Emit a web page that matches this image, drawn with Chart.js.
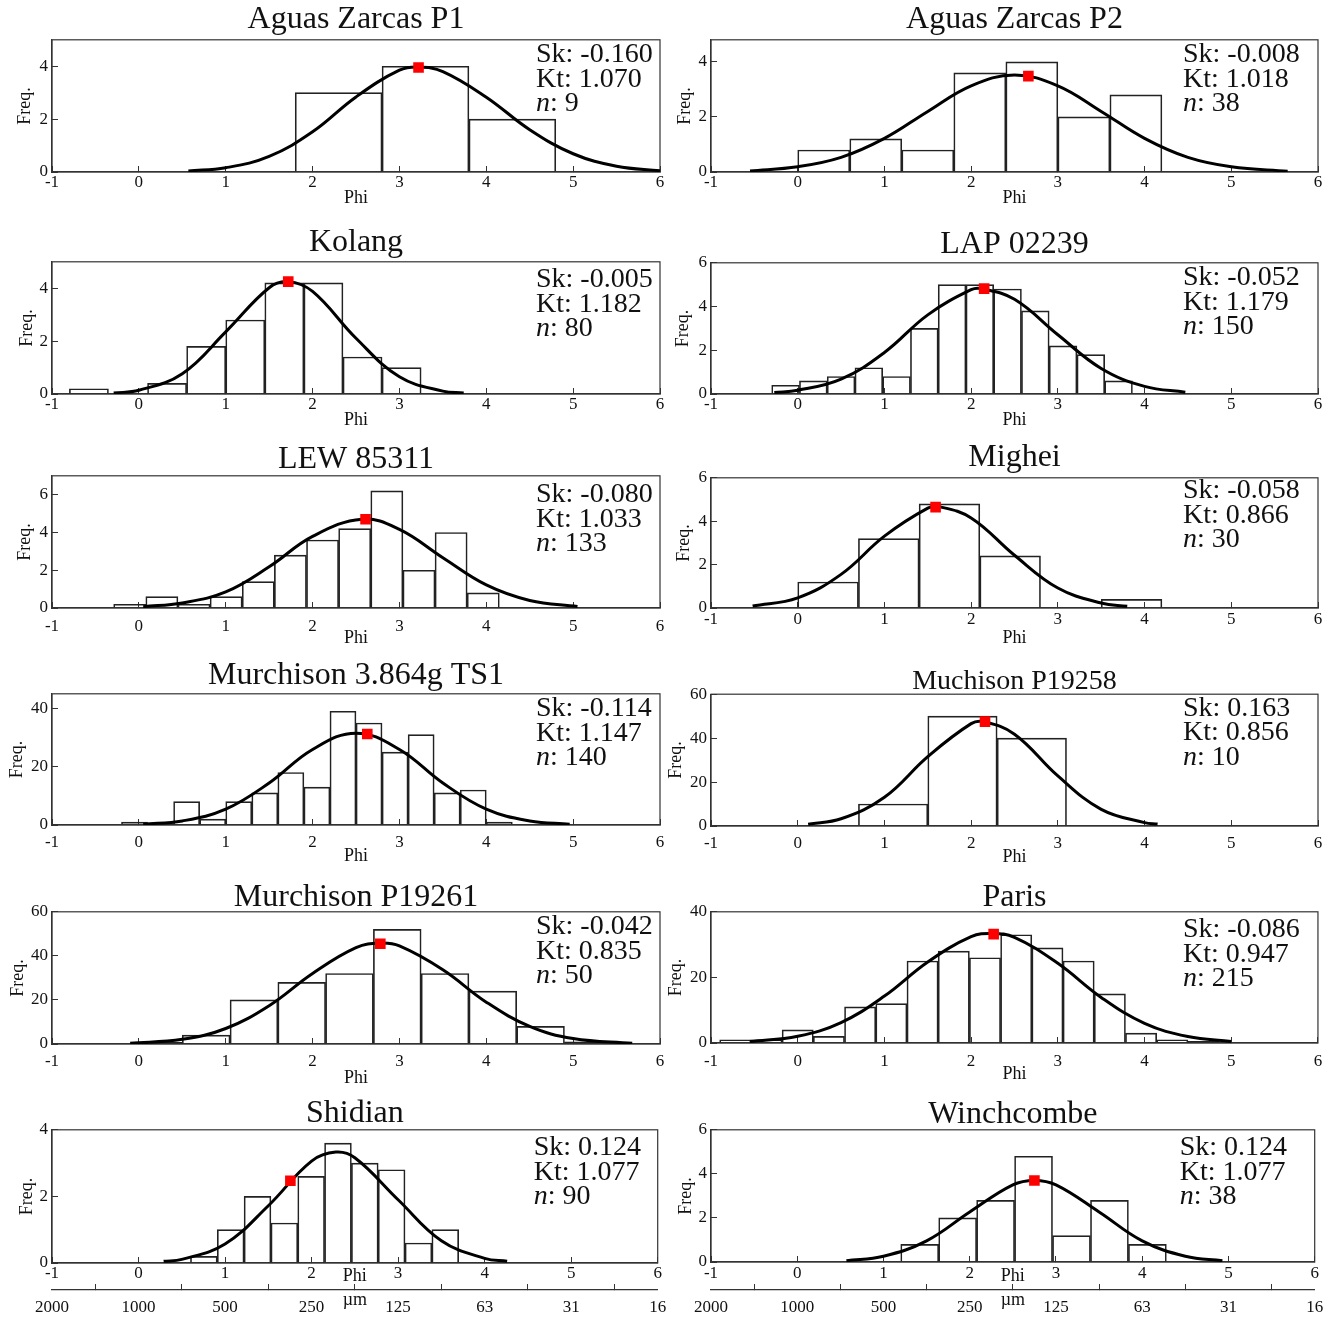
<!DOCTYPE html>
<html>
<head>
<meta charset="utf-8">
<title>Grain size distributions</title>
<script src="https://cdn.jsdelivr.net/npm/chart.js@4.4.1/dist/chart.umd.min.js"></script>
<style>
  body { margin: 0; background: #fff; }
  #wrap { position: relative; width: 1337px; height: 1320px; overflow: hidden; }
  #wrap canvas { position: absolute; }
</style>
</head>
<body>
<div id="wrap"></div>

<script>
// ---- data ----
const titles = ['Aguas Zarcas P1', 'Aguas Zarcas P2', 'Kolang', 'LAP 02239', 'LEW 85311', 'Mighei',
  'Murchison 3.864g TS1', 'Muchison P19258', 'Murchison P19261', 'Paris', 'Shidian', 'Winchcombe'];
const skewness = ['-0.160', '-0.008', '-0.005', '-0.052', '-0.080', '-0.058', '-0.114', '0.163', '-0.042', '-0.086', '0.124', '0.124'];
const kurtosis = ['1.070', '1.018', '1.182', '1.179', '1.033', '0.866', '1.147', '0.856', '0.835', '0.947', '1.077', '1.077'];
const sampleSize = ['9', '38', '80', '150', '133', '30', '140', '10', '50', '215', '90', '38'];

// histogram bin edges (phi) and frequencies
const binEdges = [
  [1.8, 2.8, 3.8, 4.8],
  [0, 0.6, 1.2, 1.8, 2.4, 3.0, 3.6, 4.2],
  [-0.8, -0.35, 0.1, 0.55, 1.0, 1.45, 1.9, 2.35, 2.8, 3.25],
  [-0.3, 0.02, 0.34, 0.66, 0.98, 1.3, 1.62, 1.94, 2.26, 2.58, 2.9, 3.22, 3.54, 3.86],
  [-0.29, 0.08, 0.45, 0.82, 1.19, 1.56, 1.93, 2.3, 2.67, 3.04, 3.41, 3.78, 4.15],
  [0, 0.7, 1.4, 2.1, 2.8, 3.5, 4.2],
  [-0.2, 0.1, 0.4, 0.7, 1.0, 1.3, 1.6, 1.9, 2.2, 2.5, 2.8, 3.1, 3.4, 3.7, 4.0, 4.3],
  [0.7, 1.5, 2.3, 3.1],
  [-0.05, 0.5, 1.05, 1.6, 2.15, 2.7, 3.25, 3.8, 4.35, 4.9, 5.45],
  [-0.9, -0.54, -0.18, 0.18, 0.54, 0.9, 1.26, 1.62, 1.98, 2.34, 2.7, 3.06, 3.42, 3.78, 4.14, 4.5, 4.86],
  [0.6, 0.91, 1.22, 1.53, 1.84, 2.15, 2.46, 2.77, 3.08, 3.39, 3.7],
  [1.2, 1.64, 2.08, 2.52, 2.96, 3.4, 3.84, 4.28]
];
const binFreq = [
  [3, 4, 2],
  [0.8, 1.2, 0.8, 3.6, 4.0, 2.0, 2.8],
  [0.2, 0, 0.4, 1.8, 2.8, 4.2, 4.2, 1.4, 1.0],
  [0.4, 0.6, 0.8, 1.2, 0.8, 3.0, 5.0, 5.0, 4.8, 3.8, 2.2, 1.8, 0.6],
  [0.2, 0.6, 0.2, 0.6, 1.4, 2.8, 3.6, 4.2, 6.2, 2.0, 4.0, 0.8],
  [1.2, 3.2, 4.8, 2.4, 0, 0.4],
  [1, 0.5, 8, 2, 8, 11, 18, 13, 39, 35, 25, 31, 11, 12, 1],
  [10, 50, 40],
  [0.8, 4, 20, 28, 32, 52, 32, 24, 8, 1],
  [1, 1, 4, 2, 11, 12, 25, 28, 26, 33, 29, 25, 15, 3, 1, 0.5],
  [0.2, 1.0, 2.0, 1.2, 2.6, 3.6, 3.0, 2.8, 0.6, 1.0],
  [0.8, 2.0, 2.8, 4.8, 1.2, 2.8, 0.8]
];

// fitted curve
const curvePhi = [
  [0.57, 1.0, 1.5, 2.0, 2.5, 3.0, 3.22, 3.5, 4.0, 4.5, 5.0, 5.5, 6.0],
  [-0.55, 0, 0.5, 1.0, 1.5, 2.0, 2.5, 3.0, 3.5, 4.0, 4.5, 5.0, 5.65],
  [-0.29, 0, 0.5, 1.0, 1.5, 1.72, 2.0, 2.5, 3.0, 3.5, 3.74],
  [-0.27, 0, 0.5, 1.0, 1.5, 2.0, 2.12, 2.5, 3.0, 3.5, 4.0, 4.47],
  [0.05, 0.5, 1.0, 1.5, 2.0, 2.57, 3.0, 3.5, 4.0, 4.5, 5.05],
  [-0.52, 0, 0.5, 1.0, 1.5, 1.63, 2.0, 2.5, 3.0, 3.5, 3.8],
  [0.05, 0.5, 1.0, 1.5, 2.0, 2.5, 3.0, 3.5, 4.0, 4.5, 4.96],
  [0.12, 0.5, 1.0, 1.5, 2.0, 2.14, 2.5, 3.0, 3.5, 4.0, 4.15],
  [-0.1, 0.5, 1.0, 1.5, 2.0, 2.5, 2.78, 3.0, 3.5, 4.0, 4.5, 5.0, 5.68],
  [-0.55, 0, 0.5, 1.0, 1.5, 2.0, 2.24, 2.5, 3.0, 3.5, 4.0, 4.5, 5.0],
  [0.29, 0.5, 1.0, 1.5, 2.0, 2.28, 2.5, 3.0, 3.5, 4.0, 4.26],
  [0.57, 1.0, 1.5, 2.0, 2.5, 2.75, 3.0, 3.5, 4.0, 4.5, 4.93]
];
const curveFreq = [
  [0.04, 0.16, 0.59, 1.52, 2.84, 3.85, 3.97, 3.80, 2.83, 1.60, 0.69, 0.22, 0.05],
  [0.04, 0.19, 0.53, 1.22, 2.20, 3.13, 3.52, 3.13, 2.20, 1.22, 0.53, 0.19, 0.03],
  [0.04, 0.14, 0.77, 2.35, 4.02, 4.25, 3.88, 2.11, 0.65, 0.11, 0.04],
  [0.07, 0.17, 0.68, 1.90, 3.62, 4.77, 4.82, 4.33, 2.71, 1.17, 0.35, 0.08],
  [0.07, 0.27, 0.85, 2.18, 3.79, 4.70, 4.16, 2.66, 1.22, 0.40, 0.08],
  [0.09, 0.47, 1.55, 3.31, 4.60, 4.67, 4.15, 2.43, 0.92, 0.23, 0.08],
  [0.29, 1.39, 5.43, 14.4, 25.9, 31.5, 25.9, 14.4, 5.43, 1.39, 0.28],
  [0.83, 3.30, 13.1, 31.6, 46.6, 47.5, 41.8, 22.8, 7.6, 1.53, 0.87],
  [0.34, 2.12, 7.04, 17.4, 32.0, 43.7, 45.8, 44.5, 33.7, 19.0, 8.0, 2.49, 0.32],
  [0.45, 2.07, 6.24, 14.3, 24.7, 32.4, 33.4, 32.2, 24.3, 13.9, 6.0, 1.97, 0.49],
  [0.05, 0.11, 0.57, 1.72, 3.06, 3.33, 3.16, 1.90, 0.67, 0.14, 0.05],
  [0.06, 0.26, 0.96, 2.27, 3.50, 3.70, 3.50, 2.27, 0.96, 0.26, 0.06]
];
const markerPhi = [3.22, 2.66, 1.72, 2.15, 2.61, 1.59, 2.63, 2.16, 2.78, 2.26, 1.755, 2.75];
const markerFreq = [3.95, 3.48, 4.25, 4.82, 4.70, 4.65, 31.2, 47.5, 45.5, 33.2, 2.47, 3.70];

const freqMax = [5, 4.8, 5, 6, 7, 6, 45, 60, 60, 40, 4, 6];
const freqStep = [2, 2, 2, 2, 2, 2, 20, 20, 20, 20, 2, 2];
const phiTicks = [-1, 0, 1, 2, 3, 4, 5, 6];
const micronLabels = ['2000', '1000', '500', '250', '125', '63', '31', '16'];

// ---- page layout (px) ----
// [plot top, plot bottom, title centre, x tick label centre, x title centre]
const frame = [
  [40, 172, 20, 183, 198], [40, 172, 20, 183, 198],
  [262, 394, 243, 405, 420], [263, 394, 245, 405, 420],
  [476, 608, 460, 627, 638], [478, 608, 458, 620, 638],
  [694, 825, 676, 843, 856], [694, 826, 681, 844, 857],
  [912, 1044, 898, 1062, 1078], [912, 1043, 898, 1062, 1074],
  [1130, 1263, 1114, 1274, 1276], [1130, 1262, 1115, 1274, 1276]
];
const titleSize = [32, 32, 32, 32, 32, 32, 32, 28, 32, 32, 32, 32];
const freqTitleX = [25, 685, 27, 683, 25, 684, 17, 676, 18, 676, 27, 686];
const statsDy = [15, 15, 18, 15, 19, 13, 15, 14, 15, 18, 18, 18];

const FONT = "'Liberation Serif', 'Times New Roman', Times, serif";
Chart.defaults.font.family = FONT;
Chart.defaults.color = '#111';

// full box round the plot
const framePlugin = {
  id: 'frameBox',
  beforeDatasetsDraw(chart) {
    const {ctx, chartArea: a} = chart;
    ctx.save();
    ctx.strokeStyle = '#333';
    ctx.lineWidth = 1.2;
    ctx.strokeRect(a.left, a.top, a.right - a.left, a.bottom - a.top);
    ctx.restore();
  }
};

// Sk / Kt / n block in the upper right corner
const statsPlugin = {
  id: 'stats',
  afterDraw(chart, args, opts) {
    const {ctx, chartArea: a} = chart;
    const x = a.right - opts.inset;
    const y = a.top + opts.dy;
    ctx.save();
    ctx.fillStyle = '#111';
    ctx.textBaseline = 'middle';
    ctx.textAlign = 'left';
    ctx.font = '28px ' + FONT;
    ctx.fillText('Sk: ' + opts.sk, x, y);
    ctx.fillText('Kt: ' + opts.kt, x, y + 24.5);
    ctx.font = 'italic 28px ' + FONT;
    ctx.fillText('n', x, y + 49);
    const w = ctx.measureText('n').width;
    ctx.font = '28px ' + FONT;
    ctx.fillText(': ' + opts.n, x + w, y + 49);
    ctx.restore();
  }
};

const wrap = document.getElementById('wrap');

titles.forEach((name, i) => {
  const col = i % 2;
  const last = i >= 10;
  const [top, bottom, titleY, tickY, axisY] = frame[i];

  const canvasLeft = col ? 665 : 0;
  const canvasW = col ? 672 : 680;
  const plotLeft = col ? 711 : 52;
  const plotRight = col ? 1318 : 660;
  const tLine = titleSize[i] * 0.8;
  const canvasTop = titleY - tLine / 2 - 12;
  const xH = last ? 1290 - bottom : axisY + 13 - bottom;
  const canvasBottom = last ? 1320 : bottom + xH;

  const cv = document.createElement('canvas');
  cv.width = canvasW;
  cv.height = Math.round(canvasBottom - canvasTop);
  cv.style.left = canvasLeft + 'px';
  cv.style.top = canvasTop + 'px';
  wrap.appendChild(cv);

  const edges = binEdges[i];
  const bars = binFreq[i].map((f, k) => ({x: (edges[k] + edges[k + 1]) / 2, y: f}));
  const curve = curvePhi[i].map((p, k) => ({x: p, y: curveFreq[i][k]}));

  const axisGrid = {drawOnChartArea: false, drawTicks: true, tickLength: -6, color: '#333', lineWidth: 1};
  const axisBorder = {display: true, color: '#333', width: 1.2};

  const scales = {
    x: {
      type: 'linear', position: 'bottom', min: -1, max: 6, offset: false,
      grid: Object.assign({offset: false}, axisGrid),
      border: axisBorder,
      ticks: {stepSize: 1, autoSkip: false, maxRotation: 0, padding: tickY - bottom + 6 - 10.2,
        color: '#111', font: {size: 17}},
      title: {display: true, text: 'Phi', color: '#111', font: {size: 18},
        padding: {top: 0, bottom: bottom + xH - 10.8 - axisY}},
      afterFit: s => { s.height = xH; }
    },
    y: {
      type: 'linear', position: 'left', min: 0, max: freqMax[i],
      grid: axisGrid,
      border: axisBorder,
      ticks: {stepSize: freqStep[i], includeBounds: false, padding: 10, color: '#111', font: {size: 17}},
      title: {display: true, text: 'Freq.', color: '#111', font: {size: 18},
        padding: {top: freqTitleX[i] - canvasLeft - 10.8, bottom: 0}},
      afterFit: s => { s.width = plotLeft - canvasLeft; }
    }
  };

  if (last) {
    scales.x2 = {
      type: 'linear', position: 'bottom', weight: 1, min: -1, max: 6, offset: false,
      grid: axisGrid,
      border: axisBorder,
      ticks: {stepSize: 1, autoSkip: false, maxRotation: 0, padding: 1308 - 1290 + 6 - 10.2,
        color: '#111', font: {size: 17},
        callback: v => micronLabels[phiTicks.indexOf(v)]},
      title: {display: true, text: 'µm', color: '#111', font: {size: 18},
        padding: {top: 0, bottom: 1320 - 10.8 - 1300}},
      afterFit: s => { s.height = 30; }
    };
  }

  new Chart(cv, {
    type: 'bar',
    data: {
      datasets: [
        {
          type: 'line',
          data: [{x: markerPhi[i], y: markerFreq[i]}],
          showLine: false,
          pointStyle: 'rect',
          pointRadius: 7.5,
          pointBackgroundColor: '#ff0000',
          pointBorderWidth: 0,
          order: 1
        },
        {
          type: 'line',
          data: curve,
          borderColor: '#000',
          borderWidth: 3,
          pointRadius: 0,
          fill: false,
          tension: 0.4,
          order: 2
        },
        {
          type: 'bar',
          data: bars,
          backgroundColor: 'rgba(255,255,255,0)',
          borderColor: '#222',
          borderWidth: 1,
          barPercentage: 1,
          categoryPercentage: 1,
          order: 3
        }
      ]
    },
    options: {
      responsive: false,
      animation: false,
      events: [],
      layout: {padding: {left: 0, right: canvasW - (plotRight - canvasLeft), top: 0, bottom: 0}},
      plugins: {
        legend: {display: false},
        tooltip: {enabled: false},
        title: {
          display: true, text: name, fullSize: false, color: '#111',
          font: {size: titleSize[i], weight: 'normal', lineHeight: 0.8},
          padding: {top: 12, bottom: top - titleY - tLine / 2}
        },
        stats: {inset: col ? 135 : 124, dy: statsDy[i], sk: skewness[i], kt: kurtosis[i], n: sampleSize[i]}
      },
      scales: scales
    },
    plugins: [framePlugin, statsPlugin]
  });
});
</script>
</body>
</html>
